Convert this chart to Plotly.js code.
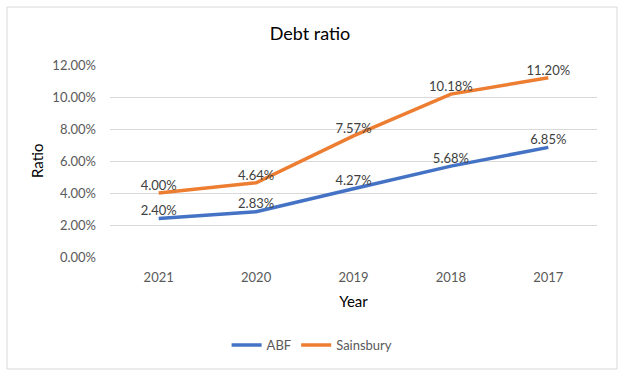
<!DOCTYPE html>
<html>
<head>
<meta charset="utf-8">
<script src="https://cdn.plot.ly/plotly-3.0.1.min.js"></script>
<style>
html,body{margin:0;padding:0;background:#fff;}
#chart{width:625px;height:378px;}
</style>
</head>
<body>
<div id="chart"></div>
<script>
const years = ["2021", "2020", "2019", "2018", "2017"];
const abf = [0.0240, 0.0283, 0.0427, 0.0568, 0.0685];
const sainsbury = [0.0400, 0.0464, 0.0757, 0.1018, 0.1120];
const seriesNames = ["ABF", "Sainsbury"];
const yTicks = [0, 0.02, 0.04, 0.06, 0.08, 0.10, 0.12];

const font = "Lato, 'Open Sans', sans-serif";
function pct(v){ return (v*100).toFixed(2) + "%"; }

const traces = [
  {x: years, y: abf, name: seriesNames[0], mode: "lines+text", type: "scatter",
   line: {color: "#4472C4", width: 3.5},
   text: abf.map(pct), textposition: "top center",
   textfont: {family: font, size: 13, color: "#404040"}, cliponaxis: false},
  {x: years, y: sainsbury, name: seriesNames[1], mode: "lines+text", type: "scatter",
   line: {color: "#ED7D31", width: 3.5},
   text: sainsbury.map(pct), textposition: "top center",
   textfont: {family: font, size: 13, color: "#404040"}, cliponaxis: false}
];

const layout = {
  width: 625, height: 378,
  margin: {l: 110, r: 28, t: 65, b: 121},
  paper_bgcolor: "#fff", plot_bgcolor: "#fff",
  font: {family: font, color: "#595959", size: 12},
  title: {text: "Debt ratio", font: {family: font, size: 18, color: "#000", weight: 400}, x: 0.496, xanchor: "center", y: 0.910, yanchor: "middle"},
  xaxis: {type: "category", range: [-0.5, 4.5], showgrid: false, zeroline: false, showline: false, ticks: "",
          tickfont: {family: font, size: 13, color: "#595959"}, ticklabelstandoff: 11,
          title: {text: "Year", font: {family: font, size: 15, color: "#000"}, standoff: 12}},
  yaxis: {range: [0, 0.12], tickvals: yTicks, ticktext: yTicks.map(pct), showgrid: true, gridcolor: "#d9d9d9", gridwidth: 1,
          zeroline: false, showline: false, ticks: "", tickfont: {family: font, size: 13, color: "#595959"},
          ticklabelstandoff: 13},
  annotations: [{text: "Ratio", xref: "paper", yref: "paper", x: -0.15, y: 0.5, xanchor: "center", yanchor: "middle",
                 textangle: -90, showarrow: false, font: {family: font, size: 15, color: "#000"}}],
  showlegend: true,
  legend: {orientation: "h", x: 0.415, xanchor: "center", y: -0.458, yanchor: "middle",
           font: {family: font, size: 13, color: "#595959"}, itemwidth: 30, tracegroupgap: 0},
  shapes: [{type: "rect", xref: "paper", yref: "paper", x0: -0.2115, x1: 1.0411, y0: -0.5833, y1: 1.302,
            line: {color: "#d9d9d9", width: 1}, fillcolor: "rgba(0,0,0,0)", layer: "below"}]
};

Plotly.newPlot("chart", traces, layout, {displayModeBar: false, staticPlot: true});
</script>
</body>
</html>
